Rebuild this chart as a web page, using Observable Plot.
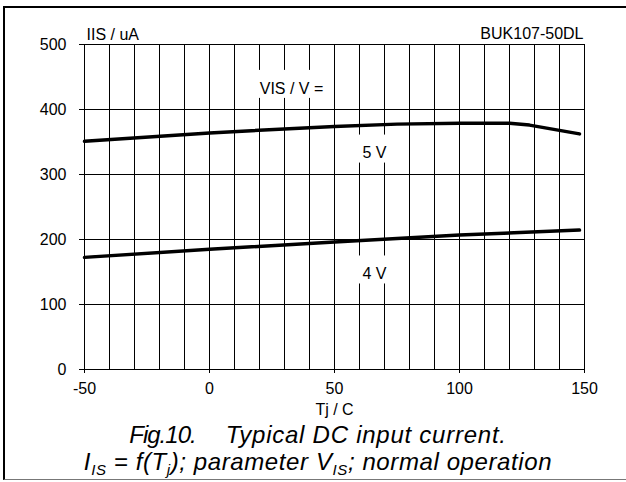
<!DOCTYPE html>
<html><head><meta charset="utf-8">
<script src="https://cdn.jsdelivr.net/npm/d3@7"></script>
<script src="https://cdn.jsdelivr.net/npm/@observablehq/plot@0.6"></script>
<style>
html,body{margin:0;padding:0;background:#fff;}
body{width:626px;height:482px;overflow:hidden;position:relative;font-family:"Liberation Sans",Arial,sans-serif;}
#chart{position:absolute;left:0;top:0;}
#frame{position:absolute;left:3px;top:6px;width:700px;height:471px;border-top:2px solid #000;border-left:2px solid #000;border-bottom:1px solid #777;pointer-events:none;}
#caption{position:absolute;left:0;top:421px;width:636px;text-align:center;font-style:italic;font-size:24px;line-height:27px;color:#000;white-space:nowrap;}
.sub{font-size:15px;position:relative;top:5px;}
</style></head><body>
<div id="chart"></div>
<div id="caption"></div>
<div id="frame"></div>
<script>
// ---- data ----
const tempTicks = [-50, 0, 50, 100, 150];
const currentTicks = [0, 100, 200, 300, 400, 500];
const tempGrid = [-50, -40, -30, -20, -10, 0, 10, 20, 30, 40, 50, 60, 70, 80, 90, 100, 110, 120, 130, 140, 150];

const tempV5 = [-50, 0, 50, 75, 100, 120, 128, 148];
const currentV5 = [351, 364, 374, 377.5, 379, 379, 376, 362.5];
const tempV4 = [-50, 0, 50, 100, 148];
const currentV4 = [172.5, 185, 196, 207, 214.5];

const labelTexts = ["VIS / V =", "5 V", "4 V"];
const labelTemp = [32.8, 66, 66];
const labelCurrent = [434, 334.5, 148.5];

const yTitle = "IIS / uA";
const partNumber = "BUK107-50DL";
const xTitle = "Tj / C";
const captionFig = "Fig.10.";
const captionLine1 = "Typical DC input current.";

// ---- tables ----
const curveRows = [
  ...tempV5.map((t, i) => ({v: "5 V", t, i: currentV5[i]})),
  ...tempV4.map((t, i) => ({v: "4 V", t, i: currentV4[i]}))
];
const labelRows = labelTexts.map((text, k) => ({text, x: labelTemp[k], y: labelCurrent[k]}));

const font = '"Liberation Sans", Arial, sans-serif';
const ctx = document.createElement("canvas").getContext("2d");
ctx.font = `16px ${font}`;

// white boxes behind the in-plot labels (positioned through the plot's scales)
function labelBoxes(index, scales) {
  const g = d3.create("svg:g").attr("aria-label", "label-boxes");
  for (const d of labelRows) {
    const px = scales.x(d.x), py = scales.y(d.y);
    const w = ctx.measureText(d.text).width || 8 * d.text.length;
    g.append("rect")
      .attr("x", px - w / 2 - 10)
      .attr("y", py - 17)
      .attr("width", w + 20)
      .attr("height", 28)
      .attr("fill", "white");
  }
  return g.node();
}

const fmt = d => `${d}`;
const svg = Plot.plot({
  width: 626, height: 420,
  marginTop: 44, marginRight: 42, marginBottom: 51, marginLeft: 84,
  style: {fontFamily: font, fontSize: "16px", color: "black", overflow: "visible"},
  x: {domain: [-50, 150]},
  y: {domain: [0, 500]},
  marks: [
    Plot.ruleX(tempGrid, {stroke: "black", strokeWidth: 1}),
    Plot.ruleY(currentTicks, {stroke: "black", strokeWidth: 1}),
    labelBoxes,
    Plot.axisX(tempTicks, {tickSize: 4, tickPadding: 9, fontSize: 16, label: null, stroke: "black", tickFormat: fmt}),
    Plot.axisY(currentTicks, {tickSize: 5, tickPadding: 13, fontSize: 16, label: null, stroke: "black", tickFormat: fmt}),
    Plot.text(labelRows, {x: "x", y: "y", text: "text", fontSize: 16, lineAnchor: "middle", dy: 1, fill: "black"}),
    Plot.line(curveRows, {x: "t", y: "i", z: "v", stroke: "black", strokeWidth: 3.5}),
    Plot.text([yTitle], {frameAnchor: "top-left", textAnchor: "start", dx: 2, dy: -4.5, lineAnchor: "bottom", fontSize: 16, fill: "black"}),
    Plot.text([partNumber], {frameAnchor: "top-right", textAnchor: "end", dx: -1, dy: -5.5, lineAnchor: "bottom", fontSize: 16, fill: "black"}),
    Plot.text([xTitle], {frameAnchor: "bottom", dy: 45, lineAnchor: "bottom", fontSize: 16, fill: "black"})
  ]
});
svg.style.background = "transparent";
document.getElementById("chart").append(svg);

// caption
const cap = document.getElementById("caption");
cap.innerHTML =
  `<div><span style="letter-spacing:-1px">${captionFig}</span><span style="display:inline-block;width:30px"></span><span style="letter-spacing:0.75px">${captionLine1}</span></div>` +
  `<div style="letter-spacing:0.6px">I<span class="sub">IS</span> = f(T<span class="sub">j</span>); parameter V<span class="sub">IS</span>; normal operation</div>`;
</script>
</body></html>
